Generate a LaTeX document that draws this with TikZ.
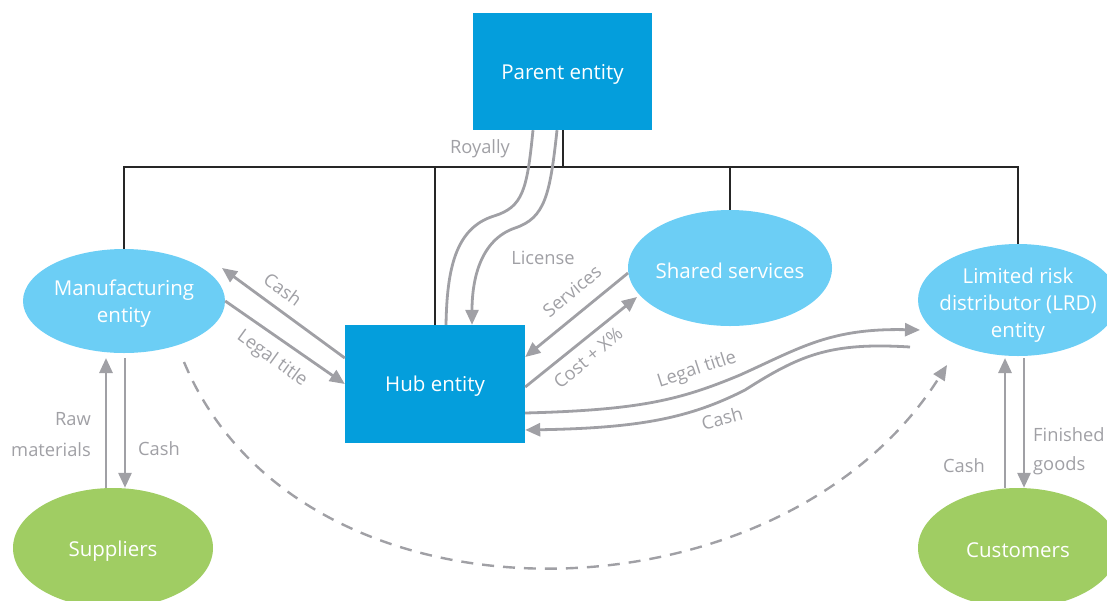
\documentclass[tikz,border=0pt]{standalone}
\usepackage{fontspec}
\setmainfont{Open Sans}
\usetikzlibrary{shapes.geometric,arrows.meta}
\definecolor{pblue}{RGB}{4,158,220}
\definecolor{lblue}{RGB}{108,206,245}
\definecolor{lgreen}{RGB}{160,205,99}
\definecolor{lgray}{RGB}{160,160,165}
\newcommand\ndfont{\fontsize{20.5}{27}\selectfont}
\newcommand\lbfont{\fontsize{18.3}{26}\selectfont}
\begin{document}
\begin{tikzpicture}[x=1pt,y=-1pt,
  box/.style={rectangle,fill=pblue,inner sep=0pt},
  ell/.style={ellipse,fill=lblue,inner sep=0pt},
  gell/.style={ellipse,fill=lgreen,inner sep=0pt},
  wtext/.style={text=white,font=\ndfont,align=center,inner sep=0pt,yshift=-2.5pt},
  tree/.style={line width=2pt,black!85},
  plain/.style={line width=2.8pt,lgray},
  flow/.style={plain,-{Triangle[length=15pt,width=13pt]}},
  dflow/.style={line width=2.4pt,lgray,dash pattern=on 12pt off 9pt,-{Triangle[length=15pt,width=13pt]}},
  lbl/.style={text=lgray,font=\lbfont,inner sep=0pt}]
\path[use as bounding box] (0,0) rectangle (1107,600);
\clip (0,0) rectangle (1107,600);

% nodes
\node[box,minimum width=179pt,minimum height=117pt,label={[wtext]center:Parent entity}] (parent) at (562.5,71.5) {};
\node[box,minimum width=180pt,minimum height=118pt,label={[wtext]center:Hub entity}] (hub) at (435,384) {};
\node[ell,minimum width=202pt,minimum height=104pt,label={[wtext]center:Manufacturing\\entity}] (man) at (124,301) {};
\node[ell,minimum width=204pt,minimum height=116pt,label={[wtext]center:Shared services}] (shared) at (730,268) {};
\node[ell,minimum width=200pt,minimum height=112pt,label={[wtext,yshift=-3pt]center:Limited risk\\distributor (LRD)\\entity}] (lrd) at (1018,300) {};
\node[gell,minimum width=200pt,minimum height=120pt,label={[wtext,yshift=-1pt]center:Suppliers}] (sup) at (113,548) {};
\node[gell,minimum width=200pt,minimum height=120pt,label={[wtext]center:Customers}] (cust) at (1018,548) {};

% ownership tree
\coordinate (bus) at (0,167);
\draw[tree] (parent.south) -- (parent.south |- bus);
\draw[tree] (man.north) -- (man.north |- bus) -- (lrd.north |- bus) -- (lrd.north);
\draw[tree] (hub.north) -- (hub.north |- bus);
\draw[tree] (shared.north) -- (shared.north |- bus);

% royalty / license
\draw[plain] ([xshift=-29.5pt]parent.south) .. controls (527,190) and (523,207) .. (494,216)
   .. controls (455,228) and (447,270) .. ([xshift=11pt]hub.north);
\draw[flow] ([xshift=-5.5pt]parent.south) .. controls (550,195) and (545,218) .. (515,228)
   .. controls (480,240) and (472,280) .. ([xshift=37pt]hub.north);
\node[lbl] (lroy) at (480,149) {Royally};
\node[lbl] (llic) at (543,258) {License};

% manufacturing <-> hub
\draw[flow] ([yshift=26pt]hub.west) -- ([shift={(98,-33)}]man.center);
\draw[flow] (man.east) -- (hub.west);
\node[lbl,rotate=-36] (lcash1) at (283,289) {Cash};
\node[lbl,rotate=-36] (llt1) at (272,359) {Legal title};

% hub <-> shared services
\draw[flow] ([shift={(-102,5)}]shared.center) -- ([yshift=27pt]hub.east);
\draw[flow] ([yshift=-3pt]hub.east) -- ([shift={(-93,29)}]shared.center);
\node[lbl,rotate=40] (lserv) at (572,291) {Services};
\node[lbl,rotate=40] (lcost) at (588,358) {Cost + X\%};

% hub <-> LRD
\draw[flow] ([yshift=-29pt]hub.east) .. controls (640,410) and (680,400) .. (740,375)
   .. controls (800,348) and (830,328) .. ([shift={(-98,30)}]lrd.center);
\draw[flow] ([shift={(-108,47)}]lrd.center) .. controls (830,342) and (800,355) .. (745,390)
   .. controls (690,418) and (640,428) .. ([yshift=-46pt]hub.east);
\node[lbl,rotate=18] (llt2) at (697,370) {Legal title};
\node[lbl,rotate=15] (lcash2) at (722,418) {Cash};

% manufacturing <-> suppliers
\draw[flow] ([xshift=-7pt]sup.north) -- ([shift={(-18,57)}]man.center);
\draw[flow] ([shift={(1,57)}]man.center) -- ([xshift=12pt]sup.north);
\node[lbl,anchor=east] (lraw) at (91,419) {Raw};
\node[lbl,anchor=east] (lmat) at (91,450) {materials};
\node[lbl,anchor=west] (lcash3) at (138,449) {Cash};

% LRD <-> customers
\draw[flow] ([xshift=-13pt]cust.north) -- ([shift={(-13,58)}]lrd.center);
\draw[flow] ([shift={(6,58)}]lrd.center) -- ([xshift=6pt]cust.north);
\node[lbl,anchor=east] (lcash4) at (985,466) {Cash};
\node[lbl,anchor=west] (lfin) at (1033,435) {Finished};
\node[lbl,anchor=west] (lgood) at (1033,466) {goods};

% direct dashed flow
\draw[dflow] ([shift={(60,61)}]man.center) .. controls (300,640) and (780,630) .. ([shift={(-71,65)}]lrd.center);
\end{tikzpicture}
\end{document}
